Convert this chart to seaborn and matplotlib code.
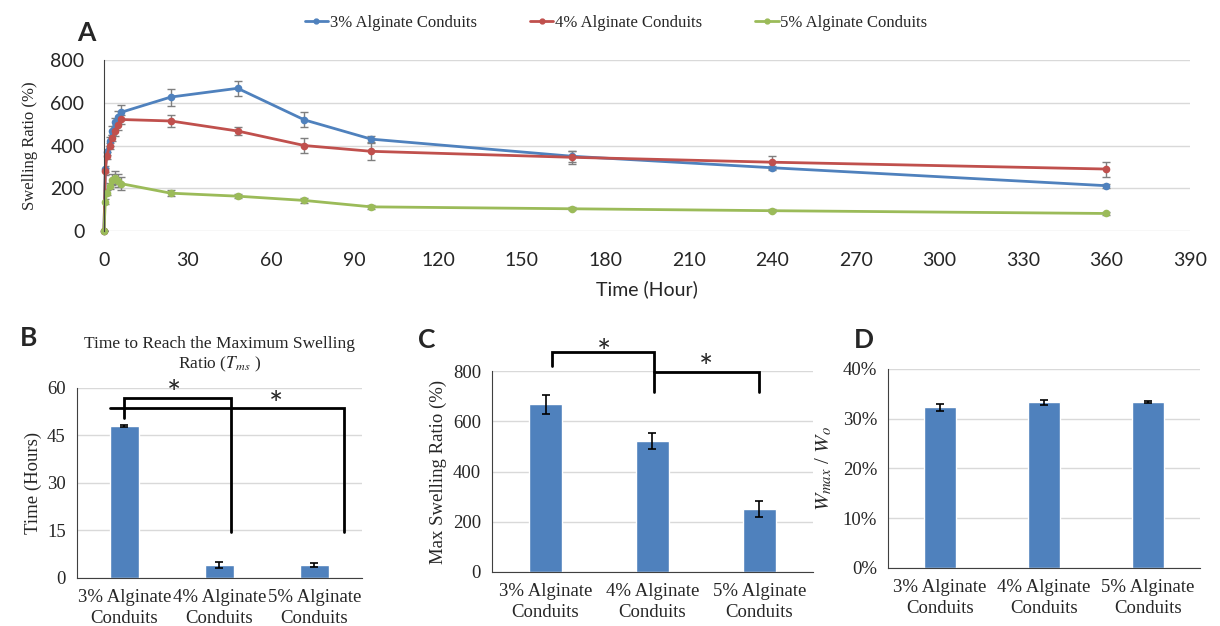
import numpy as np
import pandas as pd
import matplotlib
matplotlib.use("Agg")
import matplotlib.pyplot as plt
from matplotlib.ticker import FuncFormatter
from matplotlib.lines import Line2D
import seaborn as sns

# ---- data ----
groups = ["3% Alginate Conduits", "4% Alginate Conduits", "5% Alginate Conduits"]
bar_labels = ["3% Alginate\nConduits", "4% Alginate\nConduits", "5% Alginate\nConduits"]

time_h = [0, 0.5, 1, 2, 3, 4, 5, 6, 24, 48, 72, 96, 168, 240, 360]
swell_3 = [0, 290, 370, 420, 470, 510, 535, 555, 627, 668, 520, 430, 350, 296, 212]
swell_4 = [0, 279, 353, 397, 436, 467, 494, 522, 515, 468, 400, 373, 345, 322, 290]
swell_5 = [0, 138, 180, 210, 240, 250, 235, 222, 177, 163, 143, 113, 104, 95, 82]
err_3 = [0, 15, 15, 20, 20, 20, 25, 35, 40, 35, 35, 15, 25, 10, 10]
err_4 = [0, 15, 15, 15, 15, 20, 20, 20, 30, 20, 35, 40, 30, 30, 35]
err_5 = [0, 10, 10, 15, 25, 30, 30, 30, 15, 10, 10, 8, 6, 6, 6]

tms = [48, 4, 4]
tms_err = [0.2, 1.0, 0.6]

max_swell = [667, 520, 250]
max_swell_err = [38, 32, 32]

wmax_wo = [32.3, 33.3, 33.4]
wmax_wo_err = [0.7, 0.5, 0.2]

colors = ["#4F81BD", "#C0504D", "#9BBB59"]
bar_color = "#4F81BD"
grid_color = "#D9D9D9"

sns.set_style("white")
plt.rcParams["font.family"] = ["Liberation Serif", "DejaVu Serif"]
plt.rcParams["mathtext.fontset"] = "stix"
sans = ["Lato", "DejaVu Sans"]

fig = plt.figure(figsize=(12.2, 6.26), dpi=100)

# ---- panel A: swelling ratio over time ----
axA = fig.add_axes([0.0852, 0.631, 0.8902, 0.273])
long = pd.DataFrame({
    "time": time_h * 3,
    "ratio": swell_3 + swell_4 + swell_5,
    "err": err_3 + err_4 + err_5,
    "group": [g for g in groups for _ in time_h],
})
sns.lineplot(data=long, x="time", y="ratio", hue="group", palette=colors,
             marker="o", markersize=5.5, markeredgewidth=0, linewidth=2,
             ax=axA, legend=False, errorbar=None)
for line in axA.lines:
    line.set_clip_on(False)
for g in groups:
    sub = long[long["group"] == g]
    axA.errorbar(sub["time"], sub["ratio"], yerr=sub["err"], fmt="none",
                 ecolor="#7F7F7F", elinewidth=1, capsize=3, capthick=1, zorder=1)
axA.set_xlim(0, 390)
axA.set_ylim(0, 800)
axA.set_xticks(np.arange(0, 391, 30))
axA.set_yticks(np.arange(0, 801, 200))
axA.yaxis.grid(True, color=grid_color, lw=1)
axA.set_axisbelow(True)
for s in ["top", "right", "bottom"]:
    axA.spines[s].set_visible(False)
axA.spines["left"].set_color("#404040")
axA.tick_params(axis="y", length=0, labelsize=14, pad=14)
axA.tick_params(axis="x", length=0, labelsize=14, pad=15)
for lab in axA.get_xticklabels() + axA.get_yticklabels():
    lab.set_family(sans)
axA.set_xlabel("Time (Hour)", fontsize=14, family=sans, labelpad=8)
axA.set_ylabel("Swelling Ratio (%)", fontsize=12, labelpad=9)

handles = [Line2D([0], [0], color=c, lw=2, marker="o", markersize=3.5) for c in colors]
fig.legend(handles, groups, loc="center", bbox_to_anchor=(0.505, 0.964), ncol=3,
           frameon=False, fontsize=12, handlelength=1.4, handletextpad=0.1,
           columnspacing=3.2)


def style_bar_axes(ax):
    ax.yaxis.grid(True, color=grid_color, lw=1)
    ax.set_axisbelow(True)
    ax.spines["top"].set_visible(False)
    ax.spines["right"].set_visible(False)
    ax.spines["left"].set_color("#404040")
    ax.spines["bottom"].set_color("#404040")
    ax.tick_params(length=0, labelsize=13.5, pad=8)
    ax.set_xlabel("")
    ax.set_xticks(range(3))
    ax.set_xticklabels(bar_labels, linespacing=1.3)
    ax.set_xlim(-0.5, 2.5)


def draw_bars(ax, vals, errs):
    df = pd.DataFrame({"group": groups, "val": vals})
    sns.barplot(data=df, x="group", y="val", color=bar_color, saturation=1,
                width=0.31, errorbar=None, ax=ax)
    ax.errorbar(range(3), vals, yerr=errs, fmt="none", ecolor="black",
                elinewidth=1.2, capsize=3, capthick=1.2)


def bracket(ax, xs, ys):
    ax.plot(xs, ys, color="black", lw=2, clip_on=False, solid_joinstyle="miter")


def star(ax, x, y):
    ax.text(x, y, "*", ha="center", va="center", fontsize=24, family=sans,
            clip_on=False)


# ---- panel B: time to max swelling ----
axB = fig.add_axes([0.0631, 0.0767, 0.2336, 0.3035])
draw_bars(axB, tms, tms_err)
style_bar_axes(axB)
axB.set_ylim(0, 60)
axB.set_yticks(np.arange(0, 61, 15))
axB.set_ylabel("Time (Hours)", fontsize=13.5)
axB.set_title("Time to Reach the Maximum Swelling\nRatio ($T_{ms}$ )", fontsize=12.5,
              pad=14, linespacing=1.25)
bracket(axB, [0, 0, 1.12, 1.12], [50.5, 56.8, 56.8, 14.5])
bracket(axB, [-0.15, 2.31, 2.31], [53.7, 53.7, 14.5])
star(axB, 0.52, 57.8)
star(axB, 1.6, 54.2)

# ---- panel C: max swelling ratio ----
axC = fig.add_axes([0.4033, 0.0863, 0.263, 0.321])
draw_bars(axC, max_swell, max_swell_err)
style_bar_axes(axC)
axC.set_ylim(0, 800)
axC.set_yticks(np.arange(0, 801, 200))
axC.set_ylabel("Max Swelling Ratio (%)", fontsize=13.5)
bracket(axC, [0.06, 0.06, 1.01, 1.01], [820, 876, 876, 716])
bracket(axC, [1.01, 2.0, 2.0], [796, 796, 716])
star(axC, 0.55, 868)
star(axC, 1.5, 810)

# ---- panel D: Wmax / Wo ----
axD = fig.add_axes([0.728, 0.0927, 0.2557, 0.318])
draw_bars(axD, wmax_wo, wmax_wo_err)
style_bar_axes(axD)
axD.set_ylim(0, 40)
axD.set_yticks(np.arange(0, 41, 10))
axD.yaxis.set_major_formatter(FuncFormatter(lambda v, p: f"{v:.0f}%"))
axD.set_ylabel("$W_{max}$ / $W_o$", fontsize=15, labelpad=6)

# panel letters
for letter, (x, y) in zip("ABCD", [(0.063, 0.948), (0.016, 0.46), (0.343, 0.457), (0.7, 0.457)]):
    fig.text(x, y, letter, fontsize=19, fontweight="bold", family=sans,
             ha="left", va="center")

fig.savefig("out.png", dpi=100)
